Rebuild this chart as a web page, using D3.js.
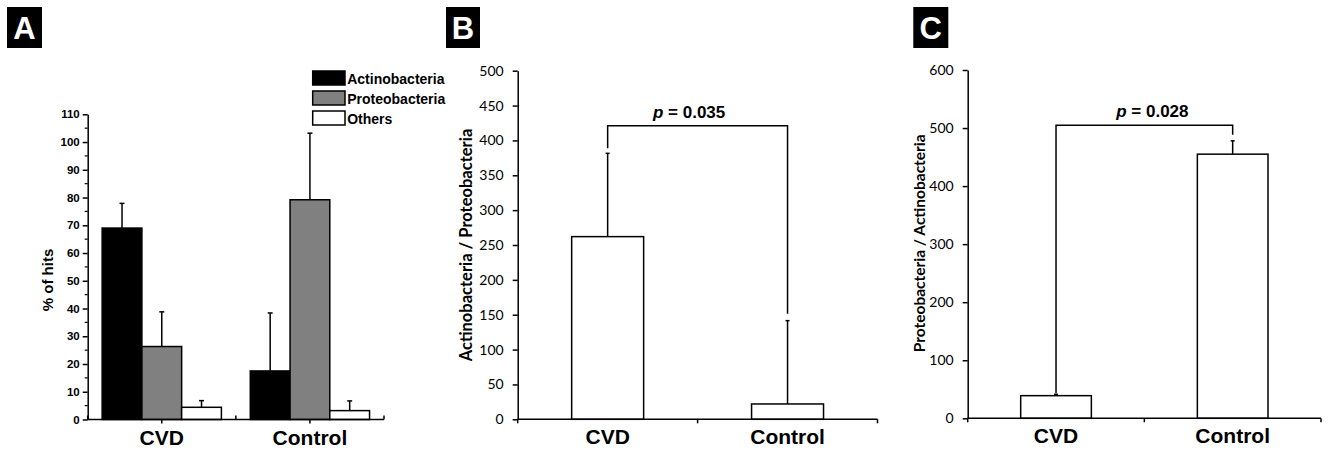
<!DOCTYPE html>
<html>
<head>
<meta charset="utf-8">
<script src="https://cdn.jsdelivr.net/npm/d3@7"></script>
<style>
  html, body { margin: 0; padding: 0; background: #fff; }
  svg { display: block; }
</style>
</head>
<body>
<svg id="chart" width="1329" height="450"></svg>
<script>
// ---------- DATA ----------
const categories = ["CVD", "Control"];
const seriesNames = ["Actinobacteria", "Proteobacteria", "Others"];
const actinoPct = [69.0, 17.5];
const actinoSD  = [8.9, 20.9];
const proteoPct = [26.3, 79.2];
const proteoSD  = [12.5, 24.0];
const othersPct = [4.4, 3.2];
const othersSD  = [2.4, 3.5];
const ticksA = [0, 10, 20, 30, 40, 50, 60, 70, 80, 90, 100, 110];
const minorTicksA = [5, 15, 25, 35, 45, 55, 65, 75, 85, 95, 105];

const ratioAP   = [262, 22];     // Actinobacteria / Proteobacteria
const ratioAPSD = [119.5, 119.5];
const ticksB = [0, 50, 100, 150, 200, 250, 300, 350, 400, 450, 500];
const pValueB = "0.035";
const bracketLevelB = 421;

const ratioPA   = [39, 455];     // Proteobacteria / Actinobacteria
const ratioPASD = [2.3, 23];
const ticksC = [0, 100, 200, 300, 400, 500, 600];
const pValueC = "0.028";
const bracketLevelC = 505;

// ---------- STYLE ----------
const svg = d3.select("#chart");
const ARIAL = "'Liberation Sans', Arial, sans-serif";
const CALIBRI = "Lato, 'Open Sans', sans-serif";
const seriesFill = { Actinobacteria: "#000000", Proteobacteria: "#808080", Others: "#ffffff" };
const LW = 1.5;

function panelLabel(x, y, w, h, letter) {
  svg.append("rect").attr("x", x).attr("y", y).attr("width", w).attr("height", h).attr("fill", "#000");
  svg.append("text").attr("x", x + w / 2).attr("y", y + h / 2 + 11)
    .attr("text-anchor", "middle").attr("fill", "#fff")
    .attr("font-family", ARIAL).attr("font-weight", "bold").attr("font-size", 31)
    .text(letter);
}

function styleAxis(g) {
  g.select(".domain").attr("stroke", "#000").attr("stroke-width", LW);
  g.selectAll(".tick line").attr("stroke", "#000").attr("stroke-width", LW);
}

function errorBar(g, x, yTop, yBase, capW) {
  g.append("line").attr("x1", x).attr("x2", x).attr("y1", yBase).attr("y2", yTop)
    .attr("stroke", "#000").attr("stroke-width", LW);
  g.append("line").attr("x1", x - capW / 2).attr("x2", x + capW / 2).attr("y1", yTop).attr("y2", yTop)
    .attr("stroke", "#000").attr("stroke-width", LW);
}

function styleCatLabels(ax) {
  ax.selectAll(".tick text").attr("font-family", ARIAL).attr("font-weight", "bold")
    .attr("font-size", 21).attr("fill", "#000").attr("y", 25).attr("dy", 0);
}

// ================= PANEL A =================
panelLabel(7, 7, 35, 41, "A");
(function () {
  const gA = svg.append("g");
  const left = 87.7, right = 384, bottom = 419.5, top = 114.3;
  const y = d3.scaleLinear().domain([0, 110]).range([bottom, top]);
  const x0 = d3.scaleBand().domain(categories).range([left, right]).paddingInner(0.195).paddingOuter(0.0975);
  const x1 = d3.scaleBand().domain(seriesNames).range([0, x0.bandwidth()]).padding(0);

  const means = { Actinobacteria: actinoPct, Proteobacteria: proteoPct, Others: othersPct };
  const sds = { Actinobacteria: actinoSD, Proteobacteria: proteoSD, Others: othersSD };

  categories.forEach((c, i) => {
    seriesNames.forEach(s => {
      const cx = x0(c) + x1(s) + x1.bandwidth() / 2;
      errorBar(gA, cx, y(means[s][i] + sds[s][i]), y(means[s][i]), 5);
    });
  });

  categories.forEach((c, i) => {
    gA.selectAll(null).data(seriesNames).enter().append("rect")
      .attr("x", s => x0(c) + x1(s))
      .attr("y", s => y(means[s][i]))
      .attr("width", x1.bandwidth())
      .attr("height", s => y(0) - y(means[s][i]))
      .attr("fill", s => seriesFill[s])
      .attr("stroke", "#000").attr("stroke-width", LW);
  });

  const yAx = gA.append("g").attr("transform", `translate(${left},0)`)
    .call(d3.axisLeft(y).tickValues(ticksA).tickSize(5).tickPadding(3).tickSizeOuter(0));
  styleAxis(yAx);
  yAx.selectAll(".tick text").attr("font-family", ARIAL).attr("font-weight", "bold").attr("font-size", 11.5).attr("fill", "#000");
  gA.append("g").attr("transform", `translate(${left},0)`)
    .selectAll("line").data(minorTicksA).enter().append("line")
    .attr("x1", -3).attr("x2", 0).attr("y1", d => y(d)).attr("y2", d => y(d))
    .attr("stroke", "#000").attr("stroke-width", 1.2);

  const xAx = gA.append("g").attr("transform", `translate(0,${bottom})`)
    .call(d3.axisBottom(x0).tickSize(4).tickSizeOuter(0));
  styleAxis(xAx);
  xAx.select(".domain").attr("d", `M${left},0H${right}`);
  styleCatLabels(xAx);
  const boundaries = [left, left + x0.step(), right];
  gA.selectAll(null).data(boundaries).enter().append("line")
    .attr("x1", d => d).attr("x2", d => d).attr("y1", bottom).attr("y2", bottom - 4)
    .attr("stroke", "#000").attr("stroke-width", LW);

  gA.append("text").attr("transform", `translate(53,280) rotate(-90)`)
    .attr("text-anchor", "middle").attr("font-family", ARIAL).attr("font-weight", "bold").attr("font-size", 15)
    .text("% of hits");

  const leg = gA.append("g").attr("transform", "translate(312.7,71)");
  seriesNames.forEach((s, i) => {
    leg.append("rect").attr("x", 0).attr("y", i * 20).attr("width", 32.3).attr("height", 14)
      .attr("fill", seriesFill[s]).attr("stroke", "#000").attr("stroke-width", LW);
    leg.append("text").attr("x", 34.5).attr("y", i * 20 + 12.5)
      .attr("font-family", ARIAL).attr("font-weight", "bold").attr("font-size", 14)
      .text(s);
  });
})();

// ================= PANELS B & C =================
function ratioPanel(opts) {
  const g = svg.append("g");
  const { left, right, bottom, top, domainMax, ticks, means, sds, title, titleX, titleY, titleSize, pText, level, pdx } = opts;
  const y = d3.scaleLinear().domain([0, domainMax]).range([bottom, top]);
  const x = d3.scaleBand().domain(categories).range([left, right]).paddingInner(0.6).paddingOuter(0.3);
  const cx = c => x(c) + x.bandwidth() / 2;

  categories.forEach((c, i) => {
    errorBar(g, cx(c), y(means[i] + sds[i]), y(means[i]), 4);
  });

  g.selectAll(null).data(categories).enter().append("rect")
    .attr("x", c => x(c)).attr("y", (c, i) => y(means[i]))
    .attr("width", x.bandwidth()).attr("height", (c, i) => y(0) - y(means[i]))
    .attr("fill", "#fff").attr("stroke", "#000").attr("stroke-width", LW);

  const yAx = g.append("g").attr("transform", `translate(${left},0)`)
    .call(d3.axisLeft(y).tickValues(ticks).tickSize(5).tickPadding(9).tickSizeOuter(0));
  styleAxis(yAx);
  yAx.selectAll(".tick text").attr("font-family", CALIBRI).attr("font-size", 14).attr("fill", "#000");

  const xAx = g.append("g").attr("transform", `translate(0,${bottom})`)
    .call(d3.axisBottom(x).tickSize(0).tickSizeOuter(0));
  styleAxis(xAx);
  xAx.select(".domain").attr("d", `M${left},0H${right}`);
  styleCatLabels(xAx);
  const bounds = [left, (left + right) / 2, right];
  g.selectAll(null).data(bounds).enter().append("line")
    .attr("x1", d => d).attr("x2", d => d).attr("y1", bottom).attr("y2", bottom + 4)
    .attr("stroke", "#000").attr("stroke-width", LW);

  g.append("text").attr("transform", `translate(${titleX},${titleY}) rotate(-90)`)
    .attr("text-anchor", "middle").attr("font-family", CALIBRI).attr("font-weight", "bold").attr("font-size", titleSize)
    .text(title);

  const xs = categories.map(cx);
  const ends = categories.map((c, i) => y(means[i] + sds[i]) - opts.gaps[i]);
  const yl = y(level);
  g.append("path")
    .attr("d", `M${xs[0]},${ends[0]}V${yl}H${xs[1]}V${ends[1]}`)
    .attr("fill", "none").attr("stroke", "#000").attr("stroke-width", LW);
  const t = g.append("text").attr("x", (xs[0] + xs[1]) / 2 + pdx).attr("y", yl - 8)
    .attr("text-anchor", "middle").attr("font-family", ARIAL).attr("font-weight", "bold").attr("font-size", 17);
  t.append("tspan").attr("font-style", "italic").text("p");
  t.append("tspan").text(" = " + pText);
}

panelLabel(446, 7, 34, 41, "B");
ratioPanel({
  left: 517.7, right: 877.5, bottom: 419.3, top: 70.7, domainMax: 500, ticks: ticksB,
  means: ratioAP, sds: ratioAPSD, title: "Actinobacteria / Proteobacteria",
  titleX: 472, titleY: 245, titleSize: 16.5, pText: pValueB, level: bracketLevelB, pdx: -8.5, gaps: [5, 7]
});

panelLabel(913.3, 7, 35, 41, "C");
ratioPanel({
  left: 967.7, right: 1321, bottom: 418.3, top: 70, domainMax: 600, ticks: ticksC,
  means: ratioPA, sds: ratioPASD, title: "Proteobacteria / Actinobacteria",
  titleX: 924.5, titleY: 243.3, titleSize: 15.5, pText: pValueC, level: bracketLevelC, pdx: 8, gaps: [1, 6]
});
</script>
</body>
</html>
